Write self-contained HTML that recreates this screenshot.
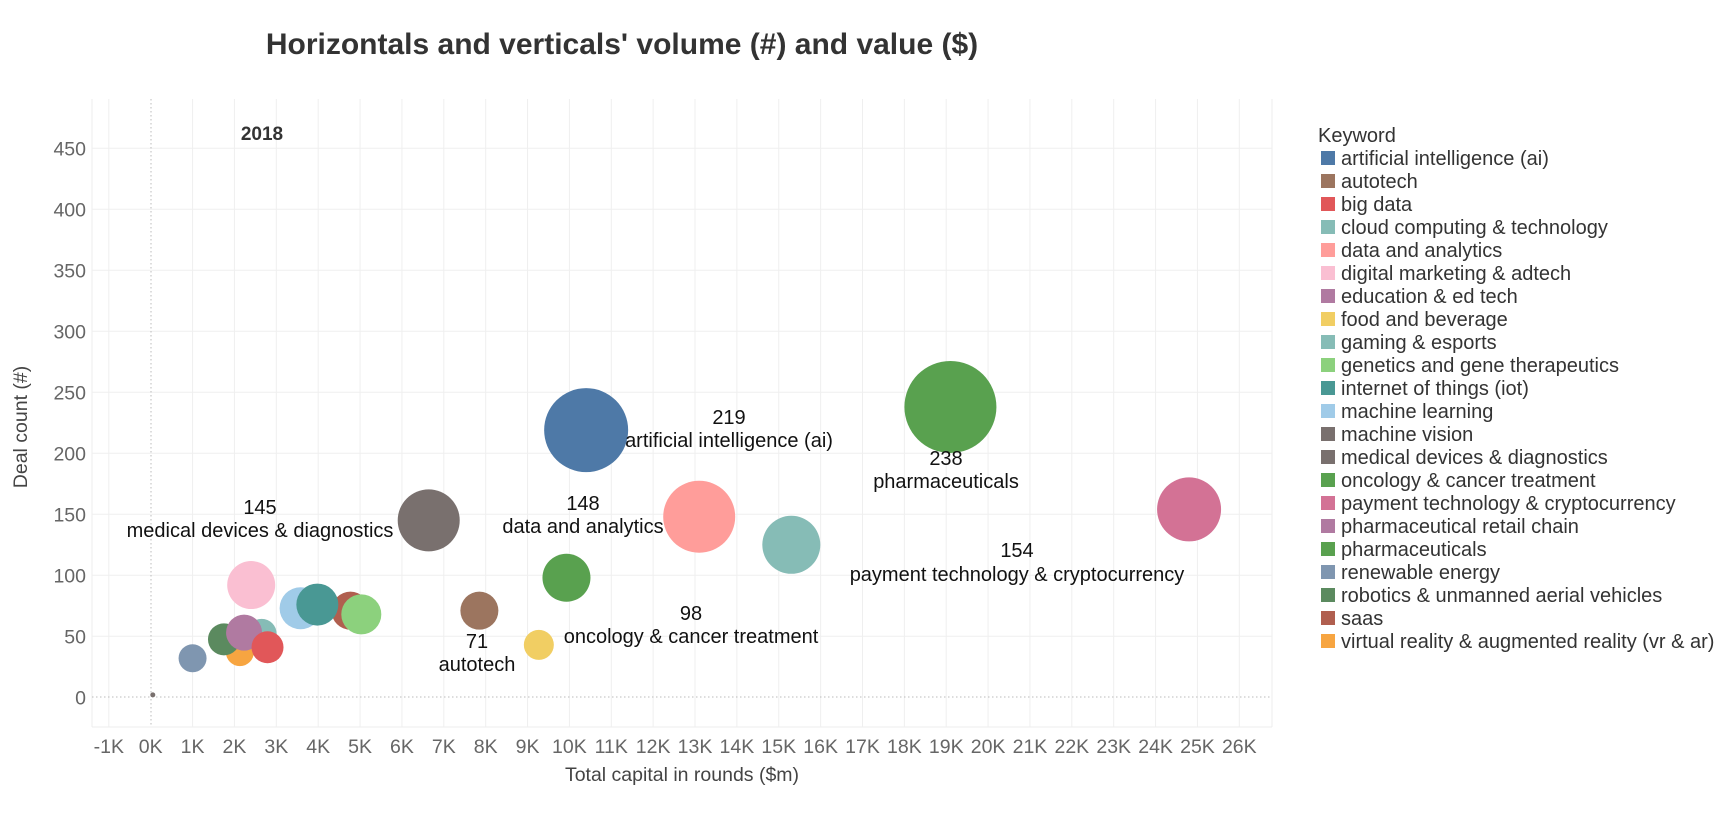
<!DOCTYPE html>
<html><head><meta charset="utf-8"><style>
body{margin:0;background:#fff;}
text{font-family:"Liberation Sans",Arial,sans-serif;}
</style></head><body>
<svg width="1730" height="814" xmlns="http://www.w3.org/2000/svg">
<rect width="1730" height="814" fill="#fff"/>
<text x="622" y="54" font-size="30" font-weight="bold" fill="#333" text-anchor="middle">Horizontals and verticals' volume (#) and value ($)</text>
<g stroke="#ececec" stroke-width="1">
<line x1="92" y1="99" x2="92" y2="727"/>
<line x1="1272" y1="99" x2="1272" y2="727"/>
<line x1="92" y1="727" x2="1272" y2="727"/>
</g>
<g id="grid" stroke="#efefef" stroke-width="1"></g>
<line x1="151" y1="99" x2="151" y2="727" stroke="#bbb" stroke-dasharray="1.5,2.5"/>
<line x1="92" y1="697" x2="1272" y2="697" stroke="#bbb" stroke-dasharray="1.5,2.5"/>
<g id="xt" font-size="19.5" fill="#666" text-anchor="middle"></g>
<g id="yt" font-size="19.5" fill="#666" text-anchor="end"></g>
<text x="682" y="781" font-size="19.5" fill="#444" text-anchor="middle">Total capital in rounds ($m)</text>
<text transform="translate(27,427) rotate(-90)" font-size="19.5" fill="#444" text-anchor="middle">Deal count (#)</text>
<text x="262" y="140" font-size="19" font-weight="bold" fill="#333" text-anchor="middle">2018</text>
<g id="bub"></g>
<g font-size="20" fill="#111" text-anchor="middle">
<text x="729" y="424">219</text><text x="729" y="447">artificial intelligence (ai)</text>
<text x="946" y="465">238</text><text x="946" y="488">pharmaceuticals</text>
<text x="1017" y="557">154</text><text x="1017" y="581">payment technology &amp; cryptocurrency</text>
<text x="583" y="510">148</text><text x="583" y="533">data and analytics</text>
<text x="260" y="514">145</text><text x="260" y="537">medical devices &amp; diagnostics</text>
<text x="477" y="648">71</text><text x="477" y="671">autotech</text>
<text x="691" y="620">98</text><text x="691" y="643">oncology &amp; cancer treatment</text>
</g>
<text x="1318" y="142" font-size="20" fill="#333">Keyword</text>
<g id="leg" font-size="20" fill="#333"></g>
<script>
var ns="http://www.w3.org/2000/svg";
function el(p,t,a,txt){var e=document.createElementNS(ns,t);for(var k in a)e.setAttribute(k,a[k]);if(txt!==undefined)e.textContent=txt;document.getElementById(p).appendChild(e);return e;}
function X(k){return 150.7+41.87*k;} function Y(v){return 697.3-1.22*v;}
for(var k=-1;k<=26;k++){if(k!=0)el("grid","line",{x1:X(k),y1:99,x2:X(k),y2:727});el("xt","text",{x:X(k),y:753},k+"K");}
for(var v=0;v<=450;v+=50){if(v)el("grid","line",{x1:92,y1:Y(v),x2:1272,y2:Y(v)});el("yt","text",{x:86,y:Y(v)+7},v);}
var B=[
["#86bcb6",15.3,125,29],["#4e79a7",10.4,219,42],["#59a14f",19.1,238,46],["#d37295",24.8,154,32],
["#ff9d9a",13.1,148,36],["#79706e",6.64,145,31],["#9c755f",7.85,71,19],["#59a14f",9.93,98,24],
["#f1ce63",9.27,43,15],["#b05f4f",4.77,71,19],["#8cd17d",5.03,68,20],["#a0cbe8",3.58,73,21],
["#499894",3.98,76,21],["#fabfd2",2.4,92,24],["#86bcb6",2.65,52,15],["#f7a541",2.13,37,14],
["#5b8a5f",1.75,47.5,16],["#b07aa1",2.23,53,18],["#e15759",2.79,41,16],["#7f96b0",1.0,32,14],["#79706e",0.05,2,2.5]];
B.forEach(function(b){el("bub","circle",{cx:X(b[1]),cy:Y(b[2]),r:b[3],fill:b[0]});});
var L=[["#4e79a7","artificial intelligence (ai)"],["#9c755f","autotech"],["#e15759","big data"],["#86bcb6","cloud computing & technology"],["#ff9d9a","data and analytics"],["#fabfd2","digital marketing & adtech"],["#b07aa1","education & ed tech"],["#f1ce63","food and beverage"],["#86bcb6","gaming & esports"],["#8cd17d","genetics and gene therapeutics"],["#499894","internet of things (iot)"],["#a0cbe8","machine learning"],["#79706e","machine vision"],["#79706e","medical devices & diagnostics"],["#59a14f","oncology & cancer treatment"],["#d37295","payment technology & cryptocurrency"],["#b07aa1","pharmaceutical retail chain"],["#59a14f","pharmaceuticals"],["#7f96b0","renewable energy"],["#5b8a5f","robotics & unmanned aerial vehicles"],["#b05f4f","saas"],["#f7a541","virtual reality & augmented reality (vr & ar)"]];
L.forEach(function(l,i){var cy=158+23*i;el("leg","rect",{x:1321,y:cy-7,width:14,height:14,fill:l[0]});el("leg","text",{x:1341,y:cy+7},l[1]);});
</script>
</svg>
</body></html>
